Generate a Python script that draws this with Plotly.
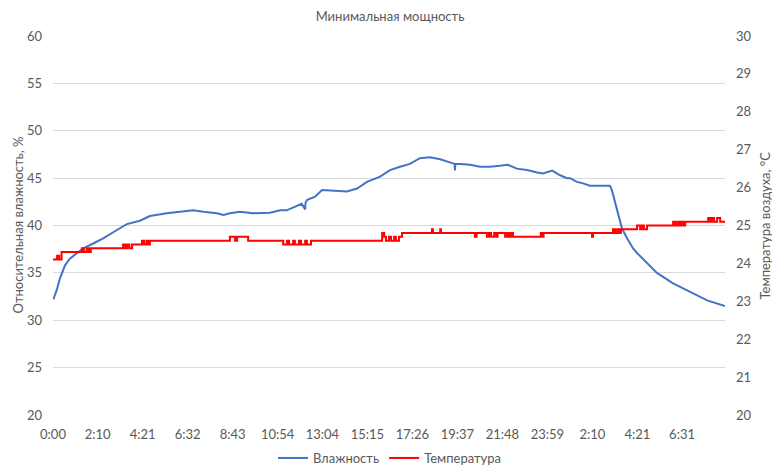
import plotly.graph_objects as go

# Time in minutes from start
hum_t = [1, 11, 20, 35, 49, 69, 88, 117, 146, 185, 215, 253, 282, 331, 379, 408, 438, 477, 496, 515,
         544, 582, 632, 661, 680, 700, 724, 734, 735, 740, 763, 783, 815, 856, 885, 914, 952, 981, 1010,
         1039, 1068, 1097, 1127, 1156, 1169, 1170, 1171, 1185, 1214, 1243, 1272, 1301, 1324, 1350, 1380,
         1409, 1426, 1453, 1476, 1496, 1505, 1525, 1543, 1563, 1621, 1627, 1642, 1656, 1671, 1688, 1700,
         1729, 1758, 1805, 1854, 1904, 1956]
hum_v = [32.2, 33.2, 34.4, 35.8, 36.5, 37.05, 37.6, 38.1, 38.65, 39.5, 40.15, 40.5, 41.0, 41.3, 41.5, 41.6,
         41.45, 41.3, 41.1, 41.3, 41.45, 41.3, 41.35, 41.6, 41.6, 41.95, 42.3, 41.7, 42.4, 42.7, 43.05,
         43.75, 43.65, 43.6, 43.9, 44.6, 45.15, 45.85, 46.2, 46.5, 47.1, 47.2, 47.0, 46.6, 46.5, 45.8,
         46.5, 46.5, 46.4, 46.2, 46.2, 46.3, 46.4, 46.0, 45.85, 45.6, 45.5, 45.8, 45.3, 45.0, 45.0, 44.6,
         44.45, 44.2, 44.2, 43.7, 41.6, 39.7, 38.65, 37.6, 37.1, 36.0, 35.0, 33.9, 33.0, 32.1, 31.5]

temp_t = [0, 12, 18, 25, 84, 90, 98, 104, 110, 117, 204, 210, 216, 222, 230, 259, 265, 272, 277, 282,
          515, 530, 536, 568, 670, 681, 687, 699, 704, 716, 722, 734, 739, 751,
          958, 964, 969, 978, 984, 993, 998, 1007, 1016, 1103, 1106, 1127, 1129,
          1228, 1233, 1263, 1269, 1275, 1284, 1290, 1294, 1316, 1322, 1327, 1333, 1339,
          1420, 1423, 1428, 1569, 1572, 1630, 1636, 1642, 1648, 1653,
          1700, 1709, 1715, 1720, 1729, 1805, 1811, 1817, 1823, 1828, 1834, 1840,
          1907, 1913, 1918, 1924, 1933, 1942, 1956]
temp_v = [24.1, 24.2, 24.1, 24.3, 24.4, 24.3, 24.4, 24.3, 24.4, 24.4, 24.5, 24.4, 24.5, 24.4, 24.5,
          24.6, 24.5, 24.6, 24.5, 24.6,
          24.7, 24.6, 24.7, 24.6, 24.5, 24.6, 24.5, 24.6, 24.5, 24.6, 24.5, 24.6, 24.5, 24.6,
          24.8, 24.7, 24.6, 24.7, 24.6, 24.7, 24.6, 24.7, 24.8, 24.9, 24.8, 24.9, 24.8,
          24.7, 24.8, 24.7, 24.8, 24.7, 24.8, 24.7, 24.8, 24.7, 24.8, 24.7, 24.8, 24.7,
          24.8, 24.7, 24.8, 24.7, 24.8, 24.9, 24.8, 24.9, 24.8, 24.9,
          25.0, 24.9, 25.0, 24.9, 25.0, 25.1, 25.0, 25.1, 25.0, 25.1, 25.0, 25.1,
          25.2, 25.1, 25.2, 25.1, 25.2, 25.1, 25.1]

tick_vals = [0, 130, 261, 392, 523, 654, 784, 915, 1046, 1177, 1308, 1439, 1570, 1701, 1831]
tick_text = ["0:00", "2:10", "4:21", "6:32", "8:43", "10:54", "13:04", "15:15", "17:26",
             "19:37", "21:48", "23:59", "2:10", "4:21", "6:31"]

FONT = "Lato, 'Open Sans', sans-serif"
GRAY = "#595959"

# The page body adds an 8px offset; layout positions below compensate for it.
L, T, PW, PH = 45, 28, 672, 379

fig = go.Figure()
fig.add_trace(go.Scatter(x=hum_t, y=hum_v, name="Влажность", mode="lines",
                         line=dict(color="#4472C4", width=2)))
fig.add_trace(go.Scatter(x=temp_t, y=temp_v, name="Температура", mode="lines", yaxis="y2",
                         line=dict(color="#FF0000", width=2, shape="hv")))

fig.update_layout(
    width=780, height=472,
    margin=dict(l=L, r=780 - L - PW, t=T, b=472 - T - PH, autoexpand=False),
    paper_bgcolor="white", plot_bgcolor="white",
    font=dict(family=FONT, size=13, color=GRAY),
    title=dict(text="Минимальная мощность", x=382 / 780, xanchor="center", y=1 - 8 / 472,
               yanchor="middle", font=dict(size=13, color=GRAY)),
    xaxis=dict(range=[0, 1956], tickvals=tick_vals, ticktext=tick_text, showgrid=False,
               zeroline=False, showline=False, ticks="", ticklabelstandoff=10, automargin=False,
               tickfont=dict(size=13, color=GRAY)),
    yaxis=dict(range=[20, 60], dtick=5, showgrid=True, gridcolor="#d9d9d9", gridwidth=1,
               zeroline=False, showline=False, ticks="", ticklabelstandoff=10, automargin=False,
               tickfont=dict(size=13, color=GRAY)),
    yaxis2=dict(range=[20, 30], dtick=1, overlaying="y", side="right", showgrid=False,
                zeroline=False, showline=False, ticks="", ticklabelstandoff=10, automargin=False,
                tickfont=dict(size=13, color=GRAY)),
    legend=dict(orientation="h", x=(382 - L) / PW, xanchor="center", y=-(450 - T - PH) / PH,
                yanchor="middle", font=dict(size=13, color=GRAY), bgcolor="rgba(0,0,0,0)"),
    annotations=[
        dict(text="Относительная влажность, %", textangle=-90, xref="paper", yref="paper",
             x=(9 - L) / PW, y=0.5, xanchor="center", yanchor="middle", showarrow=False,
             font=dict(size=13, color=GRAY)),
        dict(text="Температура воздуха, °C", textangle=-90, xref="paper", yref="paper",
             x=(756 - L) / PW, y=0.5, xanchor="center", yanchor="middle", showarrow=False,
             font=dict(size=13, color=GRAY)),
    ],
)

fig.write_html("out.html")
